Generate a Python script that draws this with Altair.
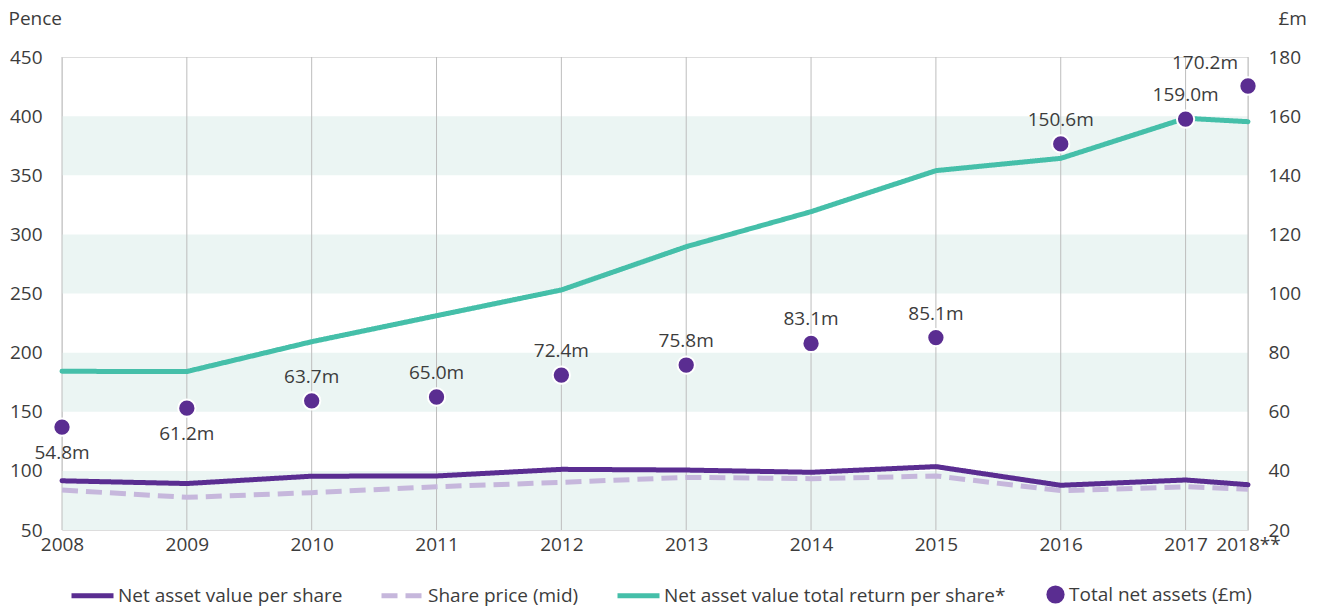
import altair as alt
import pandas as pd

# ---------------- data ----------------
x_values = [2008, 2009, 2010, 2011, 2012, 2013, 2014, 2015, 2016, 2017, 2017.5]
x_labels = ["2008", "2009", "2010", "2011", "2012", "2013", "2014", "2015", "2016", "2017", "2018**"]

nav_per_share = [91.6, 89.3, 95.5, 95.7, 101.3, 100.7, 98.8, 103.6, 87.8, 92.3, 88.3]
share_price = [83.8, 77.6, 81.6, 86.6, 90.3, 94.5, 93.4, 95.7, 83.3, 86.6, 84.4]
nav_total_return = [184.2, 184.0, 209.2, 231.2, 253.0, 289.6, 319.2, 353.9, 364.3, 398.2, 395.3]
total_net_assets = [54.8, 61.2, 63.7, 65.0, 72.4, 75.8, 83.1, 85.1, 150.6, 159.0, 170.2]

series_names = ["Net asset value per share", "Share price (mid)", "Net asset value total return per share*"]
assets_name = "Total net assets (£m)"

band_low = [50, 150, 250, 350]
band_high = [100, 200, 300, 400]
pence_ticks = [50, 100, 150, 200, 250, 300, 350, 400, 450]
m_ticks = [20, 40, 60, 80, 100, 120, 140, 160, 180]

# ---------------- tables ----------------
lines_df = pd.concat([
    pd.DataFrame({"x": x_values, "value": vals, "series": name})
    for name, vals in zip(series_names, [nav_per_share, share_price, nav_total_return])
], ignore_index=True)
assets_df = pd.DataFrame({"x": x_values, "assets": total_net_assets, "name": assets_name})
bands_df = pd.DataFrame({"lo": band_low, "hi": band_high})
grid_df = pd.DataFrame({"x": x_values})

# ---------------- styles ----------------
FONT = "Open Sans"
FS = 19
TEXT = "#3c3c3c"
PURPLE = "#5a2d91"
LILAC = "#c6b7dc"
TEAL = "#45bfa9"
BAND = "#ebf5f3"
GRID = "#bdbdbd"

label_expr = " : ".join(f"datum.value == {v} ? '{l}'" for v, l in zip(x_values, x_labels)) + " : ''"

x_scale = alt.Scale(domain=[x_values[0], x_values[-1]], nice=False, zero=False)
x_enc = alt.X("x:Q", scale=x_scale,
              axis=alt.Axis(values=x_values, labelExpr=label_expr, title=None, grid=False,
                            domain=False, ticks=False, tickSize=0, labelPadding=5,
                            labelFont=FONT, labelFontSize=FS, labelColor=TEXT,
                            labelFlush=False, labelOverlap=False))

y_left_scale = alt.Scale(domain=[50, 450], nice=False, zero=False)
y_left_axis = alt.Axis(values=pence_ticks, orient="left", title="Pence", titleAngle=0,
                       titleAlign="left", titleBaseline="middle", titleX=-54, titleY=-39,
                       titleFont=FONT, titleFontSize=FS, titleFontWeight="normal", titleColor=TEXT,
                       grid=False, domain=False, ticks=False, tickSize=0, labelPadding=20,
                       labelFont=FONT, labelFontSize=FS, labelColor=TEXT)

y_right_scale = alt.Scale(domain=[20, 180], nice=False, zero=False)
y_right_axis = alt.Axis(values=m_ticks, orient="right", title="£m", titleAngle=0,
                        titleAlign="left", titleBaseline="middle", titleX=30, titleY=-39,
                        titleFont=FONT, titleFontSize=FS, titleFontWeight="normal", titleColor=TEXT,
                        grid=False, domain=False, ticks=False, tickSize=0, labelPadding=20,
                        labelFont=FONT, labelFontSize=FS, labelColor=TEXT)

# ---------------- left (pence) layers ----------------
bands = alt.Chart(bands_df).mark_rect(color=BAND).encode(
    y=alt.Y("lo:Q", scale=y_left_scale, axis=y_left_axis),
    y2="hi:Q",
    x=alt.value(0),
    x2=alt.value(1186),
)

grid = alt.Chart(grid_df).mark_rule(color=GRID, strokeWidth=1).encode(x=x_enc)

line_legend = alt.Legend(orient="none", legendX=7, legendY=515, direction="horizontal",
                         title=None, symbolType="stroke", symbolSize=1764, symbolStrokeWidth=5,
                         labelFont=FONT, labelFontSize=FS, labelColor=TEXT, labelLimit=500,
                         labelOffset=2, columnPadding=28, padding=0)

color_enc = alt.Color("series:N", scale=alt.Scale(domain=series_names, range=[PURPLE, LILAC, TEAL]),
                      legend=line_legend)
dash_enc = alt.StrokeDash("series:N", scale=alt.Scale(domain=series_names,
                                                      range=[[1, 0], [16, 8], [1, 0]]),
                          legend=line_legend)


def series_line(name, cap):
    return alt.Chart(lines_df).transform_filter(
        alt.datum.series == name
    ).mark_line(strokeWidth=5, strokeCap=cap, strokeJoin="round").encode(
        x=x_enc,
        y=alt.Y("value:Q", scale=y_left_scale, axis=y_left_axis),
        color=color_enc,
        strokeDash=dash_enc,
    )


left = alt.layer(
    bands,
    grid,
    series_line(series_names[1], "butt"),
    series_line(series_names[2], "round"),
    series_line(series_names[0], "round"),
)

# ---------------- right (£m) layers ----------------
y_right = alt.Y("assets:Q", scale=y_right_scale, axis=y_right_axis)

points = alt.Chart(assets_df).mark_point(filled=True, size=300, stroke="white",
                                         strokeWidth=2, opacity=1).encode(
    x=x_enc,
    y=y_right,
    fill=alt.Fill("name:N", scale=alt.Scale(domain=[assets_name], range=[PURPLE]),
                  legend=alt.Legend(orient="none", legendX=984, legendY=528, title=None,
                                    symbolType="circle", symbolSize=330, symbolStrokeWidth=0,
                                    labelFont=FONT, labelFontSize=FS, labelColor=TEXT,
                                    labelLimit=300, labelOffset=4, padding=0)),
)

base_text = alt.Chart(assets_df).transform_calculate(
    label="format(datum.assets, '.1f') + 'm'"
)
text_style = dict(font=FONT, fontSize=FS, color=TEXT, align="center", baseline="middle")

labels_below = base_text.transform_filter(alt.datum.x <= 2009).mark_text(dy=26, **text_style).encode(
    x=x_enc, y=y_right, text="label:N")
labels_above = base_text.transform_filter(
    (alt.datum.x >= 2010) & (alt.datum.x <= 2017)
).mark_text(dy=-24, **text_style).encode(x=x_enc, y=y_right, text="label:N")
labels_last = base_text.transform_filter(alt.datum.x > 2017).mark_text(dx=-43, dy=-23, **text_style).encode(
    x=x_enc, y=y_right, text="label:N")

right = alt.layer(points, labels_below, labels_above, labels_last)

chart = alt.layer(left, right).resolve_scale(
    y="independent", color="independent", fill="independent", strokeDash="independent"
).properties(
    width=1186,
    height=473,
    padding={"left": 54, "top": 49, "right": 64, "bottom": 76},
    autosize=alt.AutoSizeParams(type="none"),
).configure_view(stroke=None).configure(background="white")

chart.save("out.html", embed_options={"renderer": "svg", "actions": False})
